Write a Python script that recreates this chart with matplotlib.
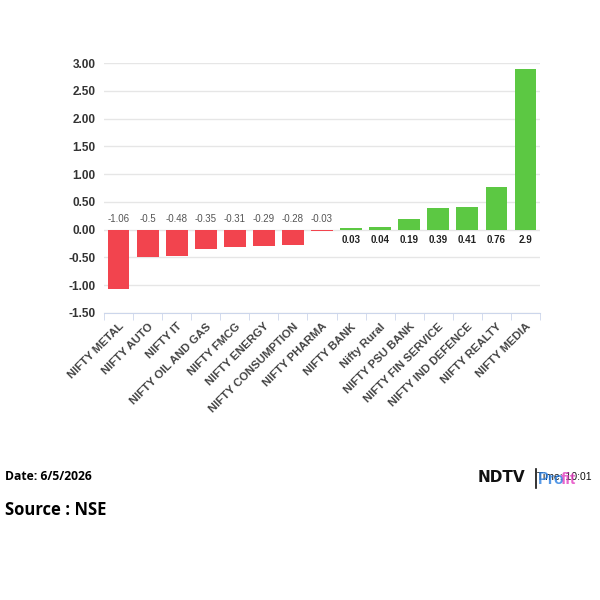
import matplotlib
matplotlib.use('Agg')
import matplotlib.pyplot as plt
from matplotlib.ticker import FixedLocator

indices = ['NIFTY METAL', 'NIFTY AUTO', 'NIFTY IT', 'NIFTY OIL AND GAS', 'NIFTY FMCG',
           'NIFTY ENERGY', 'NIFTY CONSUMPTION', 'NIFTY PHARMA', 'NIFTY BANK', 'Nifty Rural',
           'NIFTY PSU BANK', 'NIFTY FIN SERVICE', 'NIFTY IND DEFENCE', 'NIFTY REALTY', 'NIFTY MEDIA']
change = [-1.06, -0.5, -0.48, -0.35, -0.31, -0.29, -0.28, -0.03, 0.03, 0.04, 0.19, 0.39, 0.41, 0.76, 2.9]
labels = ['-1.06', '-0.5', '-0.48', '-0.35', '-0.31', '-0.29', '-0.28', '-0.03',
          '0.03', '0.04', '0.19', '0.39', '0.41', '0.76', '2.9']
yticks = [-1.5, -1.0, -0.5, 0.0, 0.5, 1.0, 1.5, 2.0, 2.5, 3.0]

plt.rcParams['font.family'] = ['Liberation Sans', 'DejaVu Sans']

fig = plt.figure(figsize=(6, 6), dpi=100)
ax = fig.add_axes([104/600, 1 - 313/600, 436/600, 250/600])

x = list(range(len(indices)))
colors = ['#f2444e' if v < 0 else '#5cc843' for v in change]
ax.bar(x, change, width=0.75, color=colors, zorder=3)

ax.set_xlim(-0.5, len(indices) - 0.5)
ax.set_ylim(-1.5, 3.0)
ax.set_yticks(yticks)
ax.set_yticklabels(['%.2f' % t for t in yticks], fontsize=8.5, fontweight='bold', color='#333333')
ax.grid(axis='y', color='#e6e6e6', linewidth=1, zorder=0)

ax.set_xticks(x)
ax.set_xticklabels(indices, rotation=45, ha='right', rotation_mode='anchor',
                   fontsize=8.2, fontweight='bold', color='#444444')
ax.xaxis.set_minor_locator(FixedLocator([i - 0.5 for i in range(len(indices) + 1)]))
ax.tick_params(axis='x', which='major', length=0, pad=6)
ax.tick_params(axis='x', which='minor', length=5, color='#ccd6eb')
ax.tick_params(axis='y', length=0, pad=6)

for s in ['top', 'right', 'left']:
    ax.spines[s].set_visible(False)
ax.spines['bottom'].set_color('#ccd6eb')

for xi, v, lab in zip(x, change, labels):
    if v < 0:
        ax.annotate(lab, (xi, 0), xytext=(0, 4), textcoords='offset points',
                    ha='center', va='bottom', fontsize=7, color='#555555')
    else:
        ax.annotate(lab, (xi, 0), xytext=(0, -4), textcoords='offset points',
                    ha='center', va='top', fontsize=7, fontweight='bold', color='#222222')

fig.text(5/600, 1 - 476/600, 'Date: 6/5/2026', fontsize=8.7, fontweight='bold',
         family='Open Sans', va='center', ha='left')
fig.text(5/600, 1 - 510/600, 'Source : NSE', fontsize=12, fontweight='bold',
         family='Open Sans', va='center', ha='left')

# logo + time
fig.text(478/600, 1 - 478/600, 'NDTV', fontsize=11, fontweight='heavy', color='#111111',
         family='DejaVu Sans', va='center', ha='left')
fig.plot = None
fig.add_artist(plt.Line2D([536/600, 536/600], [1 - 469/600, 1 - 488/600], color='#111111', lw=1.2))
fig.text(537/600, 1 - 477/600, 'Time: 10:01', fontsize=7.5, color='#111111',
         va='center', ha='left')
fig.text(538/600, 1 - 480/600, 'Pro', fontsize=11.5, fontweight='bold', color='#2a7fe0',
         alpha=0.8, va='center', ha='left')
fig.text(561/600, 1 - 480/600, 'fit', fontsize=11.5, fontweight='bold', color='#e33fc0',
         alpha=0.8, va='center', ha='left')

fig.savefig('out.png', dpi=100)
